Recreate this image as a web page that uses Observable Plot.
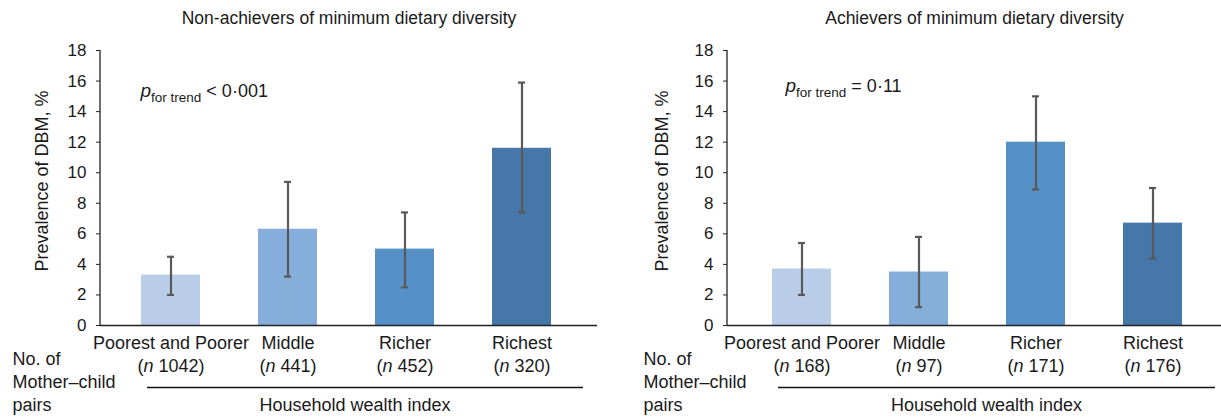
<!DOCTYPE html>
<html>
<head>
<meta charset="utf-8">
<script src="https://cdn.jsdelivr.net/npm/d3@7"></script>
<script src="https://cdn.jsdelivr.net/npm/@observablehq/plot@0.6"></script>
<style>
  html, body { margin: 0; padding: 0; background: #fff; }
  #row { display: flex; flex-direction: row; width: 1221px; height: 418px; overflow: hidden; }
  #row svg { display: block; }
</style>
</head>
<body>
<div id="row"></div>
<script>
// ---- data ----
const categories = ["Poorest and Poorer", "Middle", "Richer", "Richest"];
const barColors = ["#b9cde9", "#86aedb", "#5591c7", "#4577a8"];
const yTicks = [0, 2, 4, 6, 8, 10, 12, 14, 16, 18];

const nonTitle = "Non-achievers of minimum dietary diversity";
const nonN = [1042, 441, 452, 320];
const nonValue = [3.3, 6.3, 5.0, 11.6];
const nonLow = [2.0, 3.2, 2.5, 7.4];
const nonHigh = [4.5, 9.4, 7.4, 15.9];
const nonP = "< 0·001";

const achTitle = "Achievers of minimum dietary diversity";
const achN = [168, 97, 171, 176];
const achValue = [3.7, 3.5, 12.0, 6.7];
const achLow = [2.0, 1.2, 8.9, 4.4];
const achHigh = [5.4, 5.8, 15.0, 9.0];
const achP = "= 0·11";

const yLabel = "Prevalence of DBM, %";
const pairsLabel = "No. of\nMother–child\npairs";
const xTitle = "Household wealth index";

const FONT = "'Liberation Sans', Arial, Helvetica, sans-serif";
const ERR = "#595959";
const INK = "#1a1a1a";

function panel(o) {
  const data = categories.map((c, i) => ({
    cat: c, val: o.values[i], lo: o.low[i], hi: o.high[i], n: o.n[i], color: barColors[i]
  }));
  const yAxisLine = (index, scales, values, dims) => {
    const l = document.createElementNS("http://www.w3.org/2000/svg", "line");
    l.setAttribute("x1", dims.marginLeft);
    l.setAttribute("x2", dims.marginLeft);
    l.setAttribute("y1", scales.y(0));
    l.setAttribute("y2", scales.y(18));
    l.setAttribute("stroke", "#222");
    l.setAttribute("stroke-width", 1.3);
    return l;
  };
  const svg = Plot.plot({
    width: o.width,
    height: 418,
    marginTop: 50,
    marginBottom: 93,
    marginLeft: o.marginLeft,
    marginRight: o.marginRight,
    style: { fontFamily: FONT, fontSize: "17px", color: INK, background: "white", overflow: "visible" },
    x: { domain: categories, range: o.range, paddingInner: 0.496, paddingOuter: 0.248, axis: null },
    y: { domain: [0, 18] },
    color: { type: "identity" },
    marks: [
      Plot.axisY(yTicks, { tickSize: 4, tickPadding: 10, fontSize: 17, label: null, stroke: "#222" }),
      Plot.barY(data, { x: "cat", y: "val", fill: "color" }),
      Plot.ruleX(data, { x: "cat", y1: "lo", y2: "hi", stroke: ERR, strokeWidth: 2.2 }),
      Plot.tickY(data, { x: "cat", y: "lo", stroke: ERR, strokeWidth: 2.2, insetLeft: 26, insetRight: 26 }),
      Plot.tickY(data, { x: "cat", y: "hi", stroke: ERR, strokeWidth: 2.2, insetLeft: 26, insetRight: 26 }),
      Plot.ruleY([0], { stroke: "#222", strokeWidth: 1.7 }),
      yAxisLine,
      // title
      Plot.text([o.title], { text: d => d, frameAnchor: "top", dy: -32, fontSize: 17.5, lineAnchor: "middle", fill: INK }),
      // y label
      Plot.text([yLabel], { text: d => d, frameAnchor: "left", textAnchor: "middle", dx: o.yLabelDx, dy: -7, rotate: -90, fontSize: 18, fill: INK }),
      // p for trend
      Plot.text([o.p], { text: d => "p for trend " + d, frameAnchor: "top-left", dx: o.pDx, dy: o.pDy, textAnchor: "start", lineAnchor: "middle", fontSize: 18, fill: INK }),
      // category labels
      Plot.text(data, { x: "cat", y: 0, text: "cat", dy: 18, fontSize: 18, lineAnchor: "middle", fill: INK }),
      Plot.text(data, { x: "cat", y: 0, text: d => `(n ${d.n})`, dy: 41, fontSize: 18, lineAnchor: "middle", fill: INK }),
      // pairs label
      Plot.text([pairsLabel], { text: d => d, frameAnchor: "bottom-left", dx: o.pairsDx, dy: 55, textAnchor: "start", lineAnchor: "middle", lineHeight: 1.28, fontSize: 18, fill: INK }),
      // underline
      Plot.ruleY([0], { dy: 62, insetLeft: o.lineInsetL, insetRight: o.lineInsetR, stroke: "#111", strokeWidth: 1.7 }),
      // x title
      Plot.text([xTitle], { text: d => d, frameAnchor: "bottom", dx: o.xTitleDx, dy: 80, lineAnchor: "middle", fontSize: 18, fill: INK })
    ]
  });
  decorate(svg);
  return svg;
}

function decorate(svg) {
  const NS = "http://www.w3.org/2000/svg";
  const span = (t, attrs) => {
    const s = document.createElementNS(NS, "tspan");
    s.textContent = t;
    for (const k in attrs) s.setAttribute(k, attrs[k]);
    return s;
  };
  svg.querySelectorAll("text").forEach(t => {
    if (t.querySelector("tspan")) return;
    const s = t.textContent;
    let m = s.match(/^\(n (\d+)\)$/);
    if (m) {
      t.textContent = "";
      t.appendChild(span("("));
      t.appendChild(span("n", { "font-style": "italic" }));
      t.appendChild(span(" " + m[1] + ")"));
      return;
    }
    m = s.match(/^p for trend (.*)$/);
    if (m) {
      t.textContent = "";
      t.appendChild(span("p", { "font-style": "italic", "font-size": "19px" }));
      t.appendChild(span("for trend", { "font-size": "13.5px", "dy": "5" }));
      t.appendChild(span(" " + m[1], { "dy": "-5" }));
    }
  });
}

const row = document.getElementById("row");
row.appendChild(panel({
  width: 610, marginLeft: 100, marginRight: 13, range: [112, 580],
  title: nonTitle, values: nonValue, low: nonLow, high: nonHigh, n: nonN, p: nonP,
  yLabelDx: -58, pDx: 40, pDy: 41, pairsDx: -88, lineInsetL: 47, lineInsetR: 14, xTitleDx: 6
}));
row.appendChild(panel({
  width: 611, marginLeft: 117, marginRight: 0, range: [133, 601],
  title: achTitle, values: achValue, low: achLow, high: achHigh, n: achN, p: achP,
  yLabelDx: -65, pDx: 58, pDy: 36, pairsDx: -84, lineInsetL: 51, lineInsetR: 6, xTitleDx: 12
}));
</script>
</body>
</html>
